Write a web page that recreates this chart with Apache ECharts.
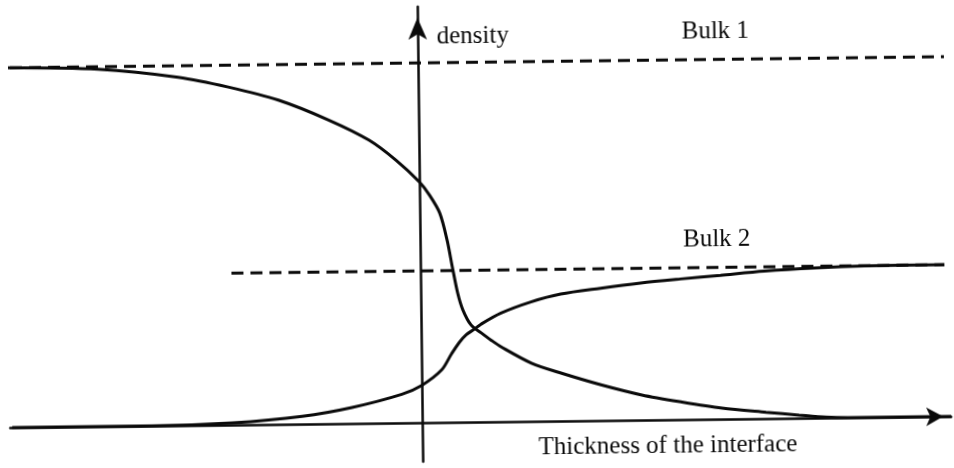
<!DOCTYPE html>
<html>
<head>
<meta charset="utf-8">
<script src="https://cdn.jsdelivr.net/npm/echarts@6/dist/echarts.min.js"></script>
<style>
	html, body { margin: 0; padding: 0; background: #fff; }
	/* the scanned figure sits slightly tilted */
	#chart { width: 954px; height: 468px; transform: rotate(-0.68deg); transform-origin: 477px 234px; }
</style>
</head>
<body>
<div id="chart"></div>
<script>
// curve 1: density falling from bulk 1 to zero
var fallX = [-4.10, -3.20, -2.40, -1.90, -1.40, -0.90, -0.50, -0.23, 0.00, 0.10, 0.20, 0.27, 0.32, 0.37, 0.42, 0.50, 0.60, 0.70, 0.80, 1.10, 1.40, 1.80, 2.20, 2.60, 3.00, 3.44, 3.77, 4.04, 4.50, 5.29];
var fallY = [1.000, 0.993, 0.968, 0.939, 0.901, 0.844, 0.787, 0.730, 0.669, 0.632, 0.582, 0.507, 0.431, 0.359, 0.312, 0.270, 0.248, 0.227, 0.208, 0.162, 0.133, 0.099, 0.070, 0.049, 0.031, 0.018, 0.009, 0.0025, 0, 0];
// curve 2: density rising from zero to bulk 2
var riseX = [-4.10, -2.70, -1.90, -1.20, -0.70, -0.20, 0.00, 0.20, 0.30, 0.38, 0.45, 0.53, 0.60, 0.80, 1.10, 1.40, 1.80, 2.20, 2.60, 3.00, 3.44, 3.94, 4.44, 5.24];
var riseY = [0, 0, 0.006, 0.022, 0.045, 0.080, 0.104, 0.146, 0.190, 0.222, 0.243, 0.258, 0.272, 0.302, 0.332, 0.353, 0.368, 0.381, 0.391, 0.400, 0.410, 0.417, 0.421, 0.422];
// bulk levels (dashed)
var bulk1X = [-4.08, 5.26];
var bulk1Y = [1.0, 1.0];
var bulk2X = [-1.89, 5.24];
var bulk2Y = [0.422, 0.422];

function pairs(xs, ys) {
	var out = [];
	for (var i = 0; i < xs.length; i++) out.push([xs[i], ys[i]]);
	return out;
}

var ink = '#0a0a0a';
var font = '"Liberation Serif", "DejaVu Serif", serif';

var chartDom = document.getElementById('chart');
var myChart = echarts.init(chartDom, null, { renderer: 'canvas' });
var option = {
	animation: false,
	backgroundColor: '#fff',
	grid: { left: 8, right: 5, top: 6, bottom: 7 },
	xAxis: {
		type: 'value',
		min: -4.12,
		max: 5.29,
		axisLine: {
			onZero: true,
			symbol: ['none', 'arrow'],
			symbolSize: [14, 17],
			symbolOffset: [0, -8],
			lineStyle: { color: ink, width: 2.5 }
		},
		axisTick: { show: false },
		axisLabel: { show: false },
		splitLine: { show: false }
	},
	yAxis: {
		type: 'value',
		min: -0.108,
		max: 1.156,
		axisLine: {
			onZero: true,
			symbol: ['none', 'arrow'],
			symbolSize: [14, 22],
			symbolOffset: [0, -11],
			lineStyle: { color: ink, width: 2.5 }
		},
		axisTick: { show: false },
		axisLabel: { show: false },
		splitLine: { show: false }
	},
	series: [
		{
			type: 'line', data: pairs(bulk1X, bulk1Y), symbol: 'none',
			lineStyle: { color: ink, width: 3, type: [12, 7] }
		},
		{
			type: 'line', data: pairs(bulk2X, bulk2Y), symbol: 'none',
			lineStyle: { color: ink, width: 3, type: [12, 7] }
		},
		{
			type: 'line', data: pairs(fallX, fallY), symbol: 'none',
			smooth: 0.3,
			lineStyle: { color: ink, width: 3 }
		},
		{
			type: 'line', data: pairs(riseX, riseY), symbol: 'none',
			smooth: 0.3,
			lineStyle: { color: ink, width: 3 }
		}
	],
	graphic: [
		{ type: 'text', left: 439, top: 24, style: { text: 'density', font: '25px ' + font, fill: ink } },
		{ type: 'text', left: 684, top: 22, style: { text: 'Bulk 1', font: '25px ' + font, fill: ink } },
		{ type: 'text', left: 683, top: 230, style: { text: 'Bulk 2', font: '25px ' + font, fill: ink } },
		{ type: 'text', left: 536, top: 436, style: { text: 'Thickness of the interface', font: '25px ' + font, fill: ink } }
	]
};
myChart.setOption(option);
</script>
</body>
</html>
